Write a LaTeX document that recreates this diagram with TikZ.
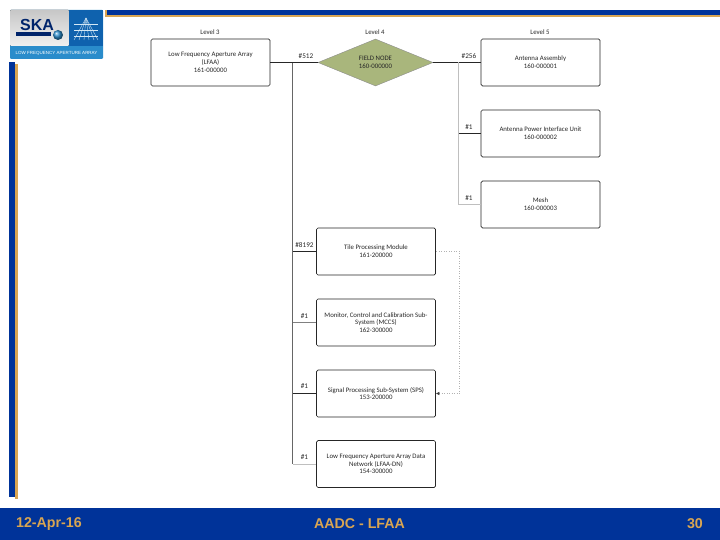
\documentclass[tikz,border=0pt]{standalone}
\usepackage{fontspec}
\setmainfont{Carlito}
\newfontfamily\footfont{Liberation Sans}
\usetikzlibrary{arrows.meta,shapes.geometric}
\definecolor{skablue}{HTML}{003399}
\definecolor{skagold}{HTML}{D9A552}
\definecolor{logoblue}{HTML}{2A8CCB}
\definecolor{logopanel}{HTML}{0F62AE}
\definecolor{nodegreen}{HTML}{A9B67C}
\newcommand{\lbl}{\fontsize{6.8}{7.8}\selectfont}

\begin{document}
\begin{tikzpicture}[
		x=1pt, y=-1pt,
		>=Latex,
		box/.style={draw=black!85, rounded corners=1.5pt, line width=0.7pt, fill=white, minimum width=119pt, minimum height=47pt, align=center, inner sep=1pt, font=\lbl, text=black!85},
		fieldnode/.style={diamond, draw=black!45, line width=0.4pt, fill=nodegreen, minimum width=115pt, minimum height=47pt, aspect=2.45, inner sep=0pt, align=center, font=\lbl, text=black!85},
		count/.style={font=\fontsize{7.2}{8}\selectfont, text=black!85, inner sep=0pt},
		level/.style={font=\lbl, text=black!85, inner sep=0pt},
		trunk/.style={draw=black!60, line width=1.8pt},
		dark/.style={draw=black!85, line width=0.7pt},
		pale/.style={draw=black!25, line width=0.6pt},
		link/.style={draw=black!30, dotted, line width=0.5pt},
		foot/.style={font=\footfont\bfseries\fontsize{14.2}{16}\selectfont, text=skagold, inner sep=0pt}
		]
		\useasboundingbox (0,0) rectangle (720,540);
		
		% --------------------------------------------------
		% Slide frame
		% --------------------------------------------------
		\fill[skablue] (105,10) rectangle (720,15);
		\fill[skagold] (105,15) rectangle (720,17);
		\fill[skagold] (105,10) rectangle (107,15);
		\fill[skagold] (15,64) rectangle (18,499);
		\fill[skablue] (9,62) rectangle (15,497);
		\fill[skablue] (0,508) rectangle (720,540);
		
		\node[foot, anchor=west] (date) at (16,524) {12-Apr-16};
		\node[foot] (title) at (359.5,524) {AADC - LFAA};
		\node[foot, anchor=east] (page) at (703,524) {30};
		
		% --------------------------------------------------
		% Logo
		% --------------------------------------------------
		\fill[rounded corners=1pt, logoblue] (10,10) rectangle (103,59);
		\fill[rounded corners=1pt, top color=black!22, bottom color=black!6] (10,10) rectangle (69,46);
		\fill[logopanel] (69,10) rectangle (103,46);
		\node[inner sep=0pt, text=skablue!70!black, font=\footfont\bfseries\fontsize{16}{16}\selectfont] (ska) at (37,25) {SKA};
		\fill[skablue!70!black] (16,32) rectangle (51,36);
		\shade[ball color=logoblue] (58,35) circle (5);
		\node[inner sep=0pt, text=white, font=\footfont\fontsize{4.5}{5}\selectfont] (logotext) at (56.5,53) {LOW FREQUENCY APERTURE ARRAY};
		\foreach \xa in {74,79,84,89,94,98}
		\draw[white!80!logoblue, line width=0.35pt] (86,18) -- (\xa,40);
		\foreach \ya in {24,30,36}
		\draw[white!80!logoblue, line width=0.35pt] (74,\ya) -- (98,\ya);
		
		% --------------------------------------------------
		% Levels
		% --------------------------------------------------
		\node[level] (L3) at (210,32) {Level 3};
		\node[level] (L4) at (375,32) {Level 4};
		\node[level] (L5) at (540,32) {Level 5};
		
		% --------------------------------------------------
		% Boxes
		% --------------------------------------------------
		\node[box] (LFAA) at (210.5,62.5) {Low Frequency Aperture Array\\(LFAA)\\161-000000};
		\node[fieldnode] (FN) at (375.5,62.5) {FIELD NODE\\160-000000};
		
		\node[box] (AA) at (540.5,62.5) {Antenna Assembly\\160-000001};
		\node[box] (APIU) at (540.5,133.5) {Antenna Power Interface Unit\\160-000002};
		\node[box] (Mesh) at (540.5,204.5) {Mesh\\160-000003};
		
		\node[box] (TPM) at (376,251.5) {Tile Processing Module\\161-200000};
		\node[box] (MCCS) at (376,322.5) {Monitor, Control and Calibration Sub-\\System (MCCS)\\162-300000};
		\node[box] (SPS) at (376,393.5) {Signal Processing Sub-System (SPS)\\153-200000};
		\node[box] (LFAADN) at (376,464) {Low Frequency Aperture Array Data\\Network (LFAA-DN)\\154-300000};
		
		% --------------------------------------------------
		% Connectors
		% --------------------------------------------------
		\coordinate (TrunkTop) at (292.5,62.5);
		\coordinate (TrunkEnd) at (292.5,464);
		\coordinate (BusTop) at (458.5,62.5);
		\coordinate (LinkTurn) at (459.5,251.5);
		
		\draw[trunk] (TrunkTop) -- (TrunkEnd);
		\draw[dark] (LFAA.east) -- (FN.west);
		\draw[dark] (FN.east) -- (AA.west);
		
		\draw[pale] (BusTop) |- (Mesh.west);
		\draw[dark] (APIU.west) -- (APIU.west -| BusTop);
		
		\draw[dark] (TPM.west) -- (TPM.west -| TrunkTop);
		\draw[draw=black!50, line width=0.5pt] (MCCS.west) -- (MCCS.west -| TrunkTop);
		\draw[dark] (SPS.west) -- (SPS.west -| TrunkTop);
		\draw[pale] (LFAADN.west) -- (LFAADN.west -| TrunkTop);
		
		\draw[link, {Latex[length=3.5pt,width=3.5pt,black!75]}-] (SPS.east) -- (LinkTurn |- SPS.east) -- (LinkTurn) -- (TPM.east);
		
		% --------------------------------------------------
		% Counts
		% --------------------------------------------------
		\node[count] (N512) at (306,56) {\#512};
		\node[count] (N256) at (469,56) {\#256};
		\node[count] (NAPIU) at (469,127.5) {\#1};
		\node[count] (NMesh) at (469,198.5) {\#1};
		\node[count] (NTPM) at (304.5,245) {\#8192};
		\node[count] (NMCCS) at (304.5,316) {\#1};
		\node[count] (NSPS) at (304.5,386.5) {\#1};
		\node[count] (NDN) at (304.5,457.5) {\#1};
		
	\end{tikzpicture}
\end{document}
